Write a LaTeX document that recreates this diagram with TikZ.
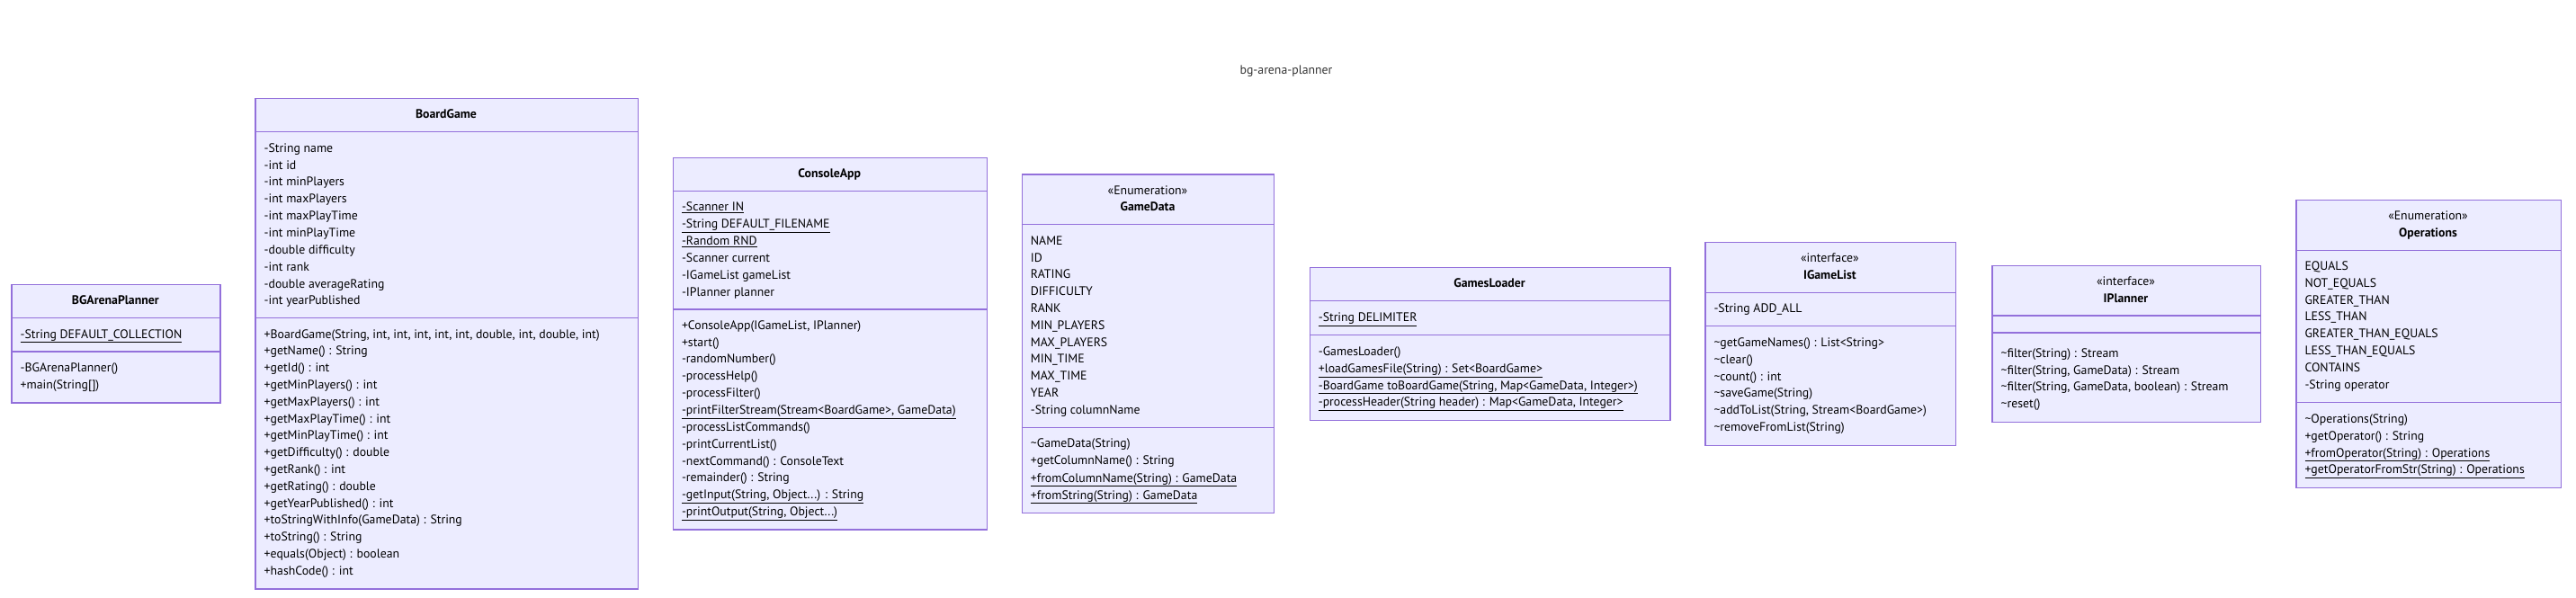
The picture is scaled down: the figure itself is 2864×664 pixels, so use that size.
\documentclass[tikz,border=0pt]{standalone}
\usepackage{fontspec}
\setmainfont{PT Sans}
\definecolor{boxfill}{HTML}{ECECFF}
\definecolor{boxline}{HTML}{9370DB}
\definecolor{titletxt}{HTML}{333333}
\newlength\reflen
\newcommand\mfont{\fontsize{\fsz pt}{\fsz pt}\selectfont}
\tikzset{
  classbox/.style={draw=boxline, fill=boxfill, line width=1.2pt, inner sep=0pt, anchor=north west},
  divider/.style={draw=boxline, line width=1.2pt},
  memb/.style={anchor=west, inner sep=0pt, text height=0.7em, text depth=0pt, font=\mfont, text=black},
  hdr/.style={anchor=center, inner sep=0pt, text height=0.7em, text depth=0pt, font=\mfont\bfseries, text=black},
  stereo/.style={anchor=center, inner sep=0pt, text height=0.7em, text depth=0pt, font=\mfont, text=black},
}
\begin{document}
\settowidth{\reflen}{\fontsize{13pt}{13pt}\selectfont +BoardGame(String, int, int, int, int, int, double, int, double, int)}%
\pgfmathsetmacro\fsz{13*373/\reflen}%
\begin{tikzpicture}[x=1pt,y=-1pt]
\useasboundingbox (0,0) rectangle (2864,664);
\fill[white] (0,0) rectangle (2864,664);

\node[font=\mfont, text=titletxt, inner sep=0pt, text height=0.7em, text depth=0pt] (title) at (1430,79) {bg-arena-planner};

% ---------- BGArenaPlanner
\node[classbox, minimum width=232pt, minimum height=131.6pt] (bgap) at (12.3,315.7) {};
\draw[divider] (bgap.west |- 0,353.3) -- (bgap.east |- 0,353.3);
\draw[divider] (bgap.west |- 0,391) -- (bgap.east |- 0,391);
\node[hdr] (bgap-name) at (128.3,335) {BGArenaPlanner};
\node[memb] (bgap-a0) at (22.5,372.7) {\underline{-String DEFAULT\_COLLECTION}};
\node[memb] (bgap-m0) at (22.5,410) {-BGArenaPlanner()};
\node[memb] (bgap-m1) at (22.5,428.7) {+main(String[])};

% ---------- BoardGame
\node[classbox, minimum width=425.4pt, minimum height=545.3pt] (bg) at (283.3,109) {};
\draw[divider] (bg.west |- 0,146.7) -- (bg.east |- 0,146.7);
\draw[divider] (bg.west |- 0,353.3) -- (bg.east |- 0,353.3);
\node[hdr] (bg-name) at (496,127.7) {BoardGame};
\foreach \t [count=\i from 0] in {{-String name},{-int id},{-int minPlayers},{-int maxPlayers},{-int maxPlayTime},{-int minPlayTime},{-double difficulty},{-int rank},{-double averageRating},{-int yearPublished}}
  \node[memb] (bg-a\i) at (293.5,165.7+\i*18.85) {\t};
\foreach \t [count=\i from 0] in {{+BoardGame(String, int, int, int, int, int, double, int, double, int)},{+getName() : String},{+getId() : int},{+getMinPlayers() : int},{+getMaxPlayers() : int},{+getMaxPlayTime() : int},{+getMinPlayTime() : int},{+getDifficulty() : double},{+getRank() : int},{+getRating() : double},{+getYearPublished() : int},{+toStringWithInfo(GameData) : String},{+toString() : String},{+equals(Object) : boolean},{+hashCode() : int}}
  \node[memb] (bg-m\i) at (293.5,372.7+\i*18.79) {\t};

% ---------- ConsoleApp
\node[classbox, minimum width=348.9pt, minimum height=413.6pt] (ca) at (747.8,174.7) {};
\draw[divider] (ca.west |- 0,212.3) -- (ca.east |- 0,212.3);
\draw[divider] (ca.west |- 0,344) -- (ca.east |- 0,344);
\node[hdr] (ca-name) at (922.2,194) {ConsoleApp};
\foreach \t [count=\i from 0] in {{\underline{-Scanner IN}},{\underline{-String DEFAULT\_FILENAME}},{\underline{-Random RND}},{-Scanner current},{-IGameList gameList},{-IPlanner planner}}
  \node[memb] (ca-a\i) at (757.8,231+\i*18.9) {\t};
\foreach \t [count=\i from 0] in {{+ConsoleApp(IGameList, IPlanner)},{+start()},{-randomNumber()},{-processHelp()},{-processFilter()},{\underline{-printFilterStream(Stream<BoardGame>, GameData)}},{-processListCommands()},{-printCurrentList()},{-nextCommand() : ConsoleText},{-remainder() : String},{\underline{-getInput(String, Object...) : String}},{\underline{-printOutput(String, Object...)}}}
  \node[memb] (ca-m\i) at (757.8,362.7+\i*18.85) {\t};

% ---------- GameData
\node[classbox, minimum width=280.5pt, minimum height=376.7pt] (gd) at (1135.7,193.3) {};
\draw[divider] (gd.west |- 0,249.7) -- (gd.east |- 0,249.7);
\draw[divider] (gd.west |- 0,475.3) -- (gd.east |- 0,475.3);
\node[stereo] (gd-st) at (1276,212.7) {«Enumeration»};
\node[hdr] (gd-name) at (1276,231) {GameData};
\foreach \t [count=\i from 0] in {NAME,ID,RATING,DIFFICULTY,RANK,MIN\_PLAYERS,MAX\_PLAYERS,MIN\_TIME,MAX\_TIME,YEAR,{-String columnName}}
  \node[memb] (gd-a\i) at (1145.7,268.7+\i*18.8) {\t};
\foreach \t [count=\i from 0] in {{\textasciitilde GameData(String)},{+getColumnName() : String},{\underline{+fromColumnName(String) : GameData}},{\underline{+fromString(String) : GameData}}}
  \node[memb] (gd-m\i) at (1145.7,494.3+\i*19.1) {\t};

% ---------- GamesLoader
\node[classbox, minimum width=400.7pt, minimum height=169.8pt] (gl) at (1455.6,296.7) {};
\draw[divider] (gl.west |- 0,334.7) -- (gl.east |- 0,334.7);
\draw[divider] (gl.west |- 0,372.3) -- (gl.east |- 0,372.3);
\node[hdr] (gl-name) at (1656,316) {GamesLoader};
\node[memb] (gl-a0) at (1465.6,354) {\underline{-String DELIMITER}};
\foreach \t [count=\i from 0] in {{-GamesLoader()},{\underline{+loadGamesFile(String) : Set<BoardGame>}},{\underline{-BoardGame toBoardGame(String, Map<GameData, Integer>)}},{\underline{-processHeader(String header) : Map<GameData, Integer>}}}
  \node[memb] (gl-m\i) at (1465.6,392.3+\i*18.6) {\t};

% ---------- IGameList
\node[classbox, minimum width=278.2pt, minimum height=226.3pt] (igl) at (1895.3,268.7) {};
\draw[divider] (igl.west |- 0,325.3) -- (igl.east |- 0,325.3);
\draw[divider] (igl.west |- 0,362.7) -- (igl.east |- 0,362.7);
\node[stereo] (igl-st) at (2034.4,288.3) {«interface»};
\node[hdr] (igl-name) at (2034.4,307) {IGameList};
\node[memb] (igl-a0) at (1905.3,343.5) {-String ADD\_ALL};
\foreach \t [count=\i from 0] in {{\textasciitilde getGameNames() : List<String>},{\textasciitilde clear()},{\textasciitilde count() : int},{\textasciitilde saveGame(String)},{\textasciitilde addToList(String, Stream<BoardGame>)},{\textasciitilde removeFromList(String)}}
  \node[memb] (igl-m\i) at (1905.3,381.7+\i*18.9) {\t};

% ---------- IPlanner
\node[classbox, minimum width=298.3pt, minimum height=173.7pt] (ip) at (2214.4,295) {};
\draw[divider] (ip.west |- 0,351) -- (ip.east |- 0,351);
\draw[divider] (ip.west |- 0,370) -- (ip.east |- 0,370);
\node[stereo] (ip-st) at (2363.5,314) {«interface»};
\node[hdr] (ip-name) at (2363.5,332.7) {IPlanner};
\foreach \t [count=\i from 0] in {{\textasciitilde filter(String) : Stream},{\textasciitilde filter(String, GameData) : Stream},{\textasciitilde filter(String, GameData, boolean) : Stream},{\textasciitilde reset()}}
  \node[memb] (ip-m\i) at (2224.4,393.7+\i*18.8) {\t};

% ---------- Operations
\node[classbox, minimum width=294.5pt, minimum height=319.7pt] (op) at (2552.3,222) {};
\draw[divider] (op.west |- 0,278.3) -- (op.east |- 0,278.3);
\draw[divider] (op.west |- 0,447.7) -- (op.east |- 0,447.7);
\node[stereo] (op-st) at (2699.5,240.7) {«Enumeration»};
\node[hdr] (op-name) at (2699.5,260) {Operations};
\foreach \t [count=\i from 0] in {EQUALS,NOT\_EQUALS,GREATER\_THAN,LESS\_THAN,GREATER\_THAN\_EQUALS,LESS\_THAN\_EQUALS,CONTAINS,{-String operator}}
  \node[memb] (op-a\i) at (2562.3,296.7+\i*18.9) {\t};
\foreach \t [count=\i from 0] in {{\textasciitilde Operations(String)},{+getOperator() : String},{\underline{+fromOperator(String) : Operations}},{\underline{+getOperatorFromStr(String) : Operations}}}
  \node[memb] (op-m\i) at (2562.3,466.7+\i*18.9) {\t};
\end{tikzpicture}
\end{document}
